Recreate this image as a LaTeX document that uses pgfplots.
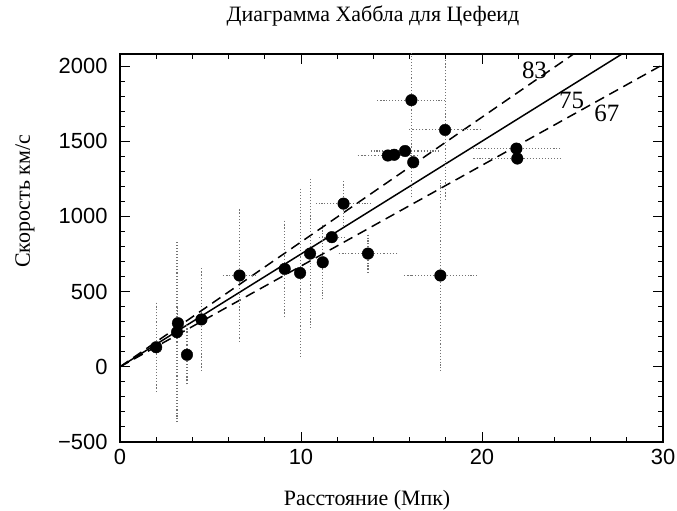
\documentclass[border=0pt]{standalone}
\usepackage{pgfplots}
\pgfplotsset{compat=1.18}
\usepackage{pgfplotstable}
\usepackage{fontspec}
\setmainfont{Liberation Serif}
\newfontfamily\ticksf{Liberation Sans}

\pgfplotstableread{
x y ex ey
2.0 130 0 270
3.2 290 0 75
3.15 230 0 572
3.7 80 0 170
4.5 315 0 315
6.6 607 0.7 413
9.1 651 0 295
9.95 624 0 533
10.5 753 0 470
11.2 695 0 220
11.7 862 0.5 0
12.35 1085 1.3 125
13.7 753 1.4 100
14.8 1405 1.45 0
15.15 1410 0 0
15.75 1435 1.65 0
16.2 1360 0 0
16.1 1773 1.66 620
17.96 1575 1.75 440
17.7 607 1.8 607
21.9 1451 2.2 0
21.95 1385 2.2 0
}\cepheids

\begin{document}
\begin{tikzpicture}
\begin{axis}[
  scale only axis,
  width=543bp, height=388bp,
  at={(0,0)}, anchor=south west,
  xmin=0, xmax=30, ymin=-500, ymax=2080,
  xtick={0,10,20,30},
  minor x tick num=4,
  ytick={-500,0,500,1000,1500,2000},
  yticklabels={−500,0,500,1000,1500,2000},
  minor y tick num=4,
  tick align=inside,
  major tick length=10bp,
  minor tick length=5bp,
  axis line style={line width=1.4pt},
  every tick/.style={black, line width=1pt},
  /pgf/number format/assume math mode=true,
  tick label style={font=\ticksf\fontsize{22}{25}\selectfont},
  yticklabel style={xshift=-9bp},
  xticklabel style={yshift=-4bp},
  title={Диаграмма Хаббла для Цефеид},
  title style={at={(axis description cs:0.466,1)}, anchor=center, yshift=32bp, font=\fontsize{22}{25}\selectfont},
  xlabel={Расстояние (Мпк)},
  xlabel style={at={(axis description cs:0.455,0)}, anchor=center, yshift=-58bp, font=\fontsize{22}{25}\selectfont},
  ylabel={Скорость км/с},
  ylabel style={at={(axis description cs:-0.175,0.62)}, anchor=center, font=\fontsize{22}{25}\selectfont},
]
\addplot[black, line width=1.5pt] coordinates {(0,0) (30,2250)};
\addplot[black, line width=1.5pt, dash pattern=on 10bp off 6bp] coordinates {(0,0) (30,2490)};
\addplot[black, line width=1.5pt, dash pattern=on 10bp off 6bp] coordinates {(0,0) (30,2010)};
\addplot[only marks, mark=*, mark size=5.8bp, black,
  error bars/.cd,
    x dir=both, x explicit,
    y dir=both, y explicit,
    error bar style={black!55, line width=1.1pt, dotted},
    error mark options={black!55, line width=1.1pt, mark size=4bp, dotted}
] table[x=x, y=y, x error=ex, y error=ey] {\cepheids};
\node[font=\fontsize{25}{27}\selectfont] at (axis cs:22.9,1972) {83};
\node[font=\fontsize{25}{27}\selectfont] at (axis cs:24.95,1772) {75};
\node[font=\fontsize{25}{27}\selectfont] at (axis cs:26.9,1683) {67};
\end{axis}
\pgfresetboundingbox
\useasboundingbox (-120bp,-69bp) rectangle (557bp,442bp);
\end{tikzpicture}
\end{document}
